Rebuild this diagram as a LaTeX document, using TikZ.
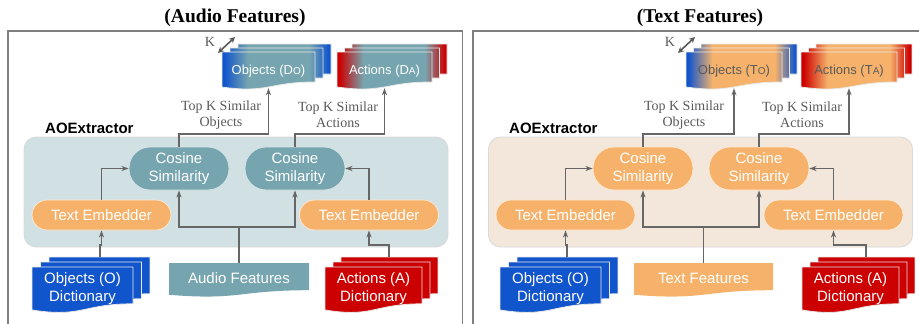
\documentclass[tikz,border=0pt]{standalone}
\usepackage{fontspec}
\setmainfont{Liberation Serif}
\setsansfont{Liberation Sans}
\usetikzlibrary{arrows.meta,calc}

\definecolor{cteal}{HTML}{76A5AF}
\definecolor{corange}{HTML}{F6B26B}
\definecolor{cblue}{HTML}{1155CC}
\definecolor{cred}{HTML}{CC0000}
\definecolor{bgteal}{HTML}{D0E0E3}
\definecolor{bgorange}{HTML}{F3E7DB}
\definecolor{linegray}{HTML}{666666}
\definecolor{framegray}{HTML}{7F7F7F}
\definecolor{labelgray}{HTML}{5A5A5A}

% side-to-side colour fades for the stacked sheets (bounding box maps to 25bp..75bp)
\pgfdeclarehorizontalshading{blueteal}{100bp}{color(0bp)=(cblue); color(26bp)=(cblue); color(37bp)=(cteal); color(65bp)=(cteal); color(74bp)=(cblue); color(100bp)=(cblue)}
\pgfdeclarehorizontalshading{redteal}{100bp}{color(0bp)=(cred); color(26bp)=(cred); color(37bp)=(cteal); color(65bp)=(cteal); color(74bp)=(cred); color(100bp)=(cred)}
\pgfdeclarehorizontalshading{blueorange}{100bp}{color(0bp)=(cblue); color(26bp)=(cblue); color(37bp)=(corange); color(65bp)=(corange); color(74bp)=(cblue); color(100bp)=(cblue)}
\pgfdeclarehorizontalshading{redorange}{100bp}{color(0bp)=(cred); color(26bp)=(cred); color(37bp)=(corange); color(65bp)=(corange); color(74bp)=(cred); color(100bp)=(cred)}

% one sheet with a wavy lower edge: x, y (top left), width, height
\newcommand{\docpath}[4]{({#1},{#2}) -- ({#1+#3},{#2}) -- ({#1+#3},{#2+0.8*#4}) .. controls ({#1+0.5*#3},{#2+0.8*#4}) and ({#1+0.5*#3},{#2+1.1075*#4}) .. ({#1},{#2+0.934*#4}) -- cycle}

% three stacked sheets: fill options, x, y, w, h, dx, dy, border options
\newcommand{\docstack}[8]{%
  \foreach \k in {2,1,0}{%
    \begin{scope}
      \clip \docpath{#2+\k*#6}{#3-\k*#7}{#4}{#5};
      \path[#1] ({#2},{#3-2*#7}) rectangle ({#2+#4+2*#6},{#3+#5});
    \end{scope}
    \draw[#8] \docpath{#2+\k*#6}{#3-\k*#7}{#4}{#5};
  }}

\newcommand{\smallcap}[1]{{\fontsize{10}{10}\selectfont #1}}

\tikzset{
  frame/.style={draw=framegray, line width=1.3pt},
  paneltitle/.style={font=\bfseries\fontsize{19.5}{22}\selectfont},
  extractor/.style={rounded corners=12pt, draw=black!15, line width=0.8pt, minimum width=424pt, minimum height=110pt, inner sep=0pt},
  extitle/.style={anchor=west, font=\sffamily\bfseries\fontsize{15}{17}\selectfont, inner sep=0pt},
  cosbox/.style={rounded corners=21pt, minimum width=100pt, minimum height=43pt, inner sep=0pt, align=center, text=white, draw=white!70!#1, line width=0.8pt, fill=#1, font=\sffamily\fontsize{15}{18}\selectfont},
  embbox/.style={rounded corners=15pt, minimum width=139pt, minimum height=30pt, inner sep=0pt, text=white, draw=white!70!corange, line width=0.8pt, fill=corange, font=\sffamily\fontsize{15}{17}\selectfont},
  sheettext/.style={inner sep=0pt, align=center, font=\sffamily\fontsize{15}{18}\selectfont, text=white},
  resulttext/.style={inner sep=0pt, font=\sffamily\fontsize{13}{15}\selectfont},
  toplbl/.style={align=center, inner sep=0pt, text=labelgray, font=\fontsize{14}{16}\selectfont},
  klbl/.style={inner sep=0pt, text=labelgray, font=\fontsize{14}{16}\selectfont},
  arr/.style={draw=linegray, line width=1.2pt, -{Stealth[length=7pt,width=5pt,inset=2pt]}},
  karr/.style={draw=black!65, line width=1.6pt, {Stealth[length=6pt,width=6pt]}-{Stealth[length=6pt,width=6pt]}},
  sheetline/.style={draw=white!82!gray, line width=0.8pt},
}

\begin{document}
\begin{tikzpicture}[x=1pt, y=-1pt]
\useasboundingbox (0,0) rectangle (919,324);
\clip (0,0) rectangle (919,324);

% ---------- panel frames and titles ----------
\draw[frame] (8,31) rectangle (462.5,345);
\draw[frame] (473,31) rectangle (945,345);
\node[paneltitle] (t1) at (235,18) {(Audio Features)};
\node[paneltitle] (t2) at (700,18) {(Text Features)};

% ================= left panel: audio features =================
\node[extractor, fill=bgteal] (ex1) at (236,192) {};
\node[extitle] (ax1) at (45,128) {AOExtractor};

\node[cosbox=cteal] (c1) at (179,168.5) {Cosine\\Similarity};
\node[cosbox=cteal] (c2) at (295,168.5) {Cosine\\Similarity};
\node[embbox] (e1) at (101.5,215) {Text Embedder};
\node[embbox] (e2) at (369,215) {Text Embedder};

% retrieved object / action sets
\docstack{shade, shading=blueteal}{222}{52}{93}{37.5}{8}{4}{sheetline}
\docstack{shade, shading=redteal}{337}{52}{95}{37.5}{7.5}{4}{sheetline}
\node[resulttext, text=white, minimum width=93pt, minimum height=37.5pt] (r1) at (268.5,70.75) {Objects (D\smallcap{O})};
\node[resulttext, text=white, minimum width=95pt, minimum height=37.5pt] (r2) at (384.5,70.75) {Actions (D\smallcap{A})};

\node[klbl] (k1) at (210,42) {K};
\coordinate (k1a) at (218,53);
\coordinate (k1b) at (235,37);
\draw[karr] (k1a) -- (k1b);

\node[toplbl] (l1) at (221,115) {Top K Similar\\Objects};
\node[toplbl] (l2) at (338,115) {Top K Similar\\Actions};

% inputs
\fill[cteal] \docpath{169}{263}{140}{34};
\node[sheettext, minimum width=140pt, minimum height=34pt] (in1) at (239,280) {\raisebox{4pt}{Audio Features}};
\docstack{fill=cblue}{32}{267}{101}{46}{8.5}{5}{sheetline}
\docstack{fill=cred}{325}{267}{97}{46}{8}{5}{sheetline}
\node[sheettext] (d1) at (82.5,289) {Objects (O)\\Dictionary};
\node[sheettext] (d2) at (373.5,289) {Actions (A)\\Dictionary};
\coordinate (d1top) at (100,257);
\coordinate (d2top) at (389,257);

% connectors
\draw[arr] (c1.north) -- (c1.north |- 0,134) -| ([yshift=1.5pt]r1.south);
\draw[arr] (c2.north) -- (c2.north |- 0,134) -| ([yshift=1.5pt]r2.south);
\draw[arr] (e1.north) |- (c1.west);
\draw[arr] (e2.north) |- (c2.east);
\draw[arr] (in1.north) -- (in1.north |- 0,227) -| (c1.south);
\draw[arr] (in1.north |- 0,227) -| (c2.south);
\draw[arr] (d1top) -- (d1top |- 0,245) -| (e1.south);
\draw[arr] (d2top) -- (d2top |- 0,245) -| (e2.south);

% ================= right panel: text features =================
\node[extractor, fill=bgorange] (ex2) at (700.5,192) {};
\node[extitle] (ax2) at (509,128) {AOExtractor};

\node[cosbox=corange] (c3) at (643,168.5) {Cosine\\Similarity};
\node[cosbox=corange] (c4) at (759,168.5) {Cosine\\Similarity};
\node[embbox] (e3) at (565.5,215) {Text Embedder};
\node[embbox] (e4) at (833.5,215) {Text Embedder};

\docstack{shade, shading=blueorange}{686}{52}{96}{37.5}{7.5}{4}{sheetline}
\docstack{shade, shading=redorange}{801}{52}{96}{37.5}{7.5}{4}{sheetline}
\node[resulttext, text=labelgray, minimum width=96pt, minimum height=37.5pt] (r3) at (734,70.75) {Objects (T\smallcap{O})};
\node[resulttext, text=labelgray, minimum width=96pt, minimum height=37.5pt] (r4) at (849,70.75) {Actions (T\smallcap{A})};

\node[klbl] (k2) at (670,42) {K};
\coordinate (k2a) at (678,53);
\coordinate (k2b) at (695,37);
\draw[karr] (k2a) -- (k2b);

\node[toplbl] (l3) at (684,115) {Top K Similar\\Objects};
\node[toplbl] (l4) at (802,115) {Top K Similar\\Actions};

\fill[corange] \docpath{634}{263}{139}{34};
\node[sheettext, minimum width=139pt, minimum height=34pt] (in2) at (703.5,280) {\raisebox{4pt}{Text Features}};
\docstack{fill=cblue}{500}{267}{101}{46}{8.5}{5}{sheetline}
\docstack{fill=cred}{802}{267}{97}{46}{8}{5}{sheetline}
\node[sheettext] (d3) at (550.5,289) {Objects (O)\\Dictionary};
\node[sheettext] (d4) at (850.5,289) {Actions (A)\\Dictionary};
\coordinate (d3top) at (567,257);
\coordinate (d4top) at (866,257);

\draw[arr] (c3.north) -- (c3.north |- 0,134) -| ([yshift=1.5pt]r3.south);
\draw[arr] (c4.north) -- (c4.north |- 0,134) -| ([yshift=1.5pt]r4.south);
\draw[arr] (e3.north) |- (c3.west);
\draw[arr] (e4.north) |- (c4.east);
\draw[arr] (in2.north) -- (in2.north |- 0,227) -| (c3.south);
\draw[arr] (in2.north |- 0,227) -| (c4.south);
\draw[arr] (d3top) -- (d3top |- 0,245) -| (e3.south);
\draw[arr] (d4top) -- (d4top |- 0,245) -| (e4.south);
\end{tikzpicture}
\end{document}
